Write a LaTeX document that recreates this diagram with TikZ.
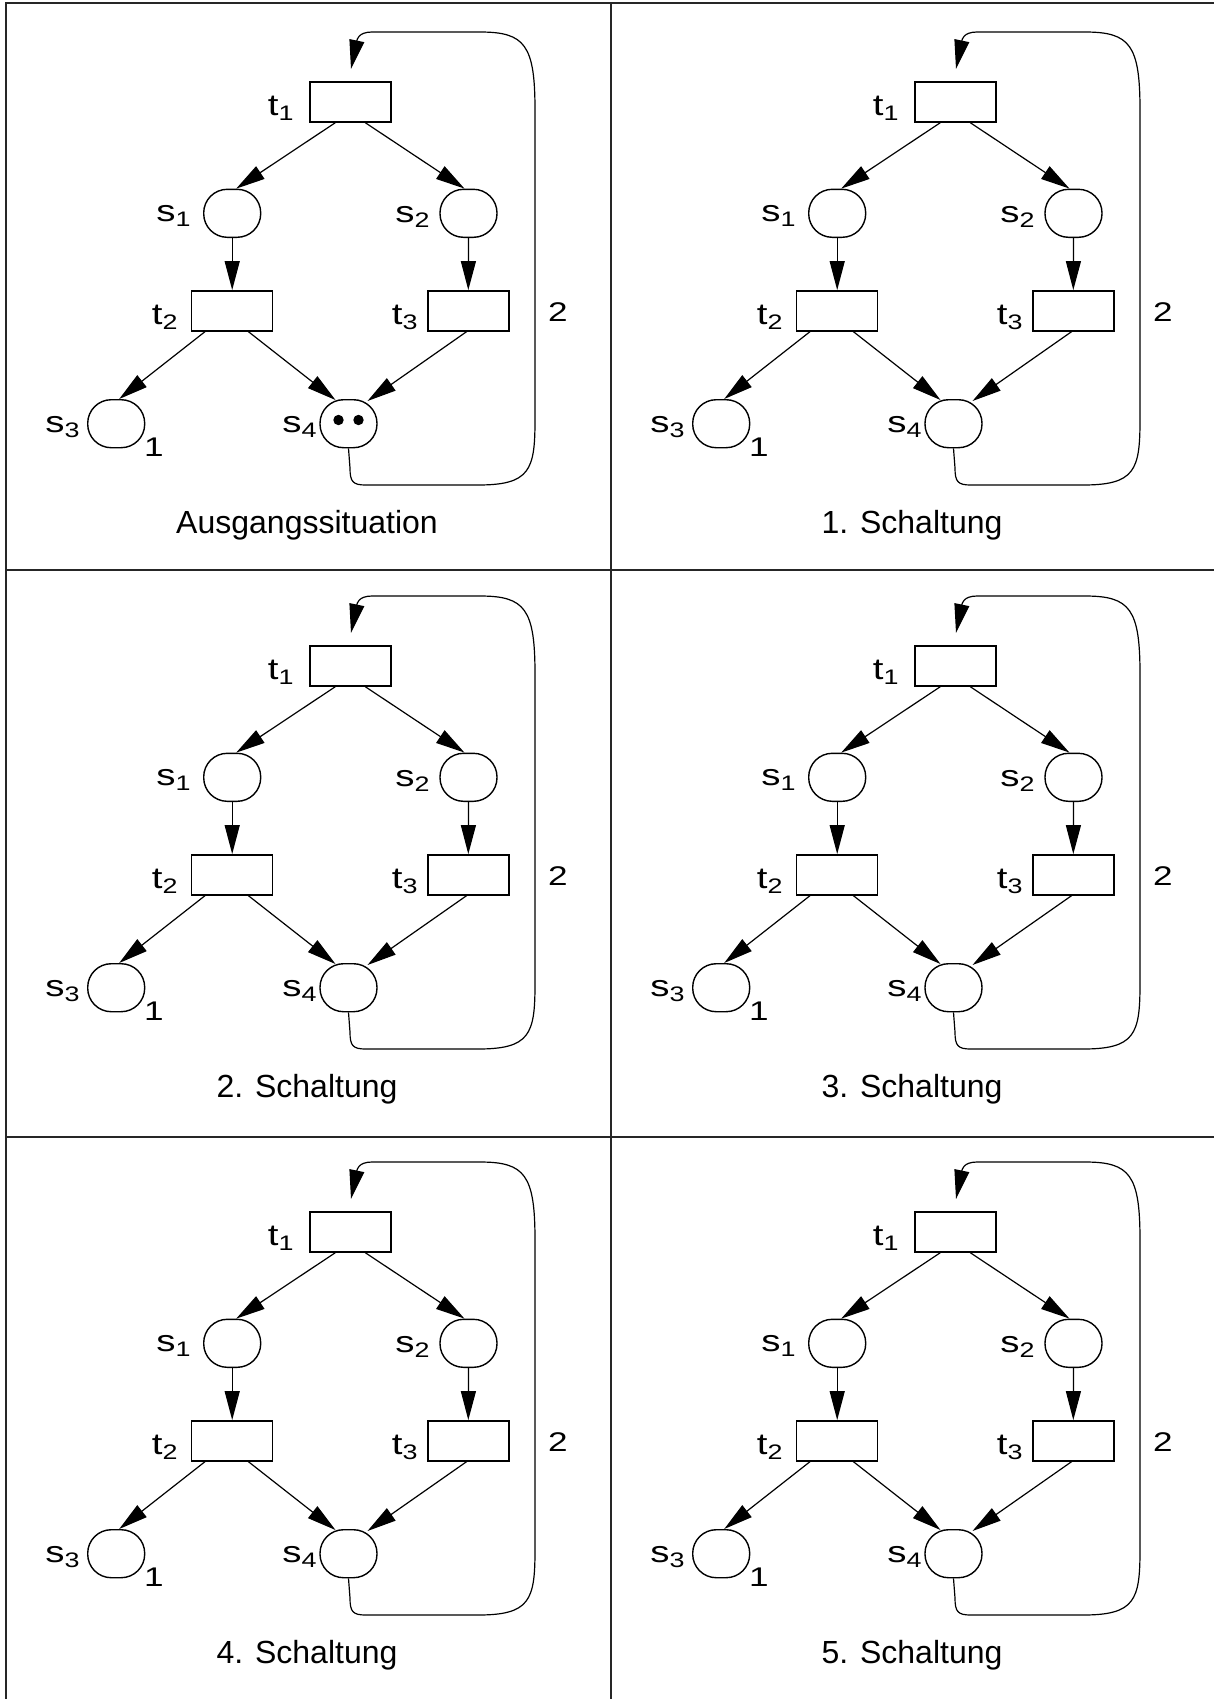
\documentclass[tikz,border=0pt]{standalone}
\usepackage{fontspec}
\usepackage{graphicx}
\setmainfont{Liberation Sans}
\usetikzlibrary{arrows.meta,calc}
\newcommand\pnlab[2]{\scalebox{1.28}[1]{\fontsize{15}{16}\selectfont #1\raisebox{-2.7pt}{\fontsize{10.5}{11}\selectfont #2}}}
\newcommand\pnnum[1]{\scalebox{1.3}[1]{\fontsize{13.5}{14}\selectfont #1}}
\tikzset{
  trans/.style={draw, line width=0.7pt, minimum width=40.5pt, minimum height=20pt, inner sep=0pt},
  place/.style={draw, line width=0.7pt, rounded corners=11.8pt, minimum width=28.5pt, minimum height=24pt, inner sep=0pt},
  pnarrow/.style={line width=0.6pt, -{Triangle[length=14.5pt, width=7.5pt]}},
  lbl/.style={inner sep=0pt, anchor=base east},
  num/.style={inner sep=0pt},
  captext/.style={inner sep=0pt, font=\fontsize{16}{18}\selectfont},
  frame/.style={line width=1pt, black!85},
}
\newcommand\petri[4]{%
\begin{scope}[shift={(#2,#3)}]
  \node[trans] (#1t1) at (350.3,102) {};
  \node[place] (#1s1) at (232.2,213.3) {};
  \node[place] (#1s2) at (468.5,213.3) {};
  \node[trans] (#1t2) at (232.2,310.8) {};
  \node[trans] (#1t3) at (468.3,310.8) {};
  \node[place] (#1s3) at (116.2,423.7) {};
  \node[place] (#1s4) at (348.5,423.7) {};
  \node[lbl] (#1lt1) at (294,115) {\pnlab{t}{1}};
  \node[lbl] (#1ls1) at (191,221) {\pnlab{s}{1}};
  \node[lbl] (#1ls2) at (430,222) {\pnlab{s}{2}};
  \node[lbl] (#1lt2) at (178,324) {\pnlab{t}{2}};
  \node[lbl] (#1lt3) at (418,324) {\pnlab{t}{3}};
  \node[lbl] (#1ls3) at (80,432) {\pnlab{s}{3}};
  \node[lbl] (#1ls4) at (317,432) {\pnlab{s}{4}};
  \node[num] (#1n1) at (154,447) {\pnnum{1}};
  \node[num] (#1n2) at (558,312) {\pnnum{2}};
  \node[captext] (#1cap) at (307,525) {#4};
  \draw[pnarrow] ($(#1t1.south)+(-15,0)$) -- ($(#1s1.north)+(4,0)$);
  \draw[pnarrow] ($(#1t1.south)+(15,0)$) -- ($(#1s2.north)+(-4,0)$);
  \draw[pnarrow] (#1s1.south) -- (#1t2.north);
  \draw[pnarrow] (#1s2.south) -- (#1t3.north);
  \draw[pnarrow] ($(#1t2.south)+(-27,0)$) -- ($(#1s3.north)+(3,0)$);
  \draw[pnarrow] ($(#1t2.south)+(16,0)$) -- ($(#1s4.north)+(-13,1)$);
  \draw[pnarrow] ($(#1t3.south)+(-1.5,0)$) -- ($(#1s4.north)+(19,2)$);
  \draw[pnarrow] (#1s4.south) -- (350,468) .. controls (350,482) and (353,485) .. (366,485)
     -- (478,485) .. controls (530,485) and (535,470) .. (535,420)
     -- (535,110) .. controls (535,45) and (525,32) .. (480,32)
     -- (372,32) .. controls (358,32) and (357,40) .. (351,69);
\end{scope}}
\begin{document}
\begin{tikzpicture}[x=0.5pt,y=-0.5pt]
  \useasboundingbox (0,0) rectangle (1214,1699);
  \draw[frame] (6,1699) -- (6,3) -- (1214,3);
  \draw[frame] (610.7,3) -- (610.7,1699);
  \draw[frame] (6,570) -- (1214,570);
  \draw[frame] (6,1137) -- (1214,1137);
  \petri{A}{0}{0}{Ausgangssituation}
  \petri{B}{605}{0}{1. Schaltung}
  \petri{C}{0}{564}{2. Schaltung}
  \petri{D}{605}{564}{3. Schaltung}
  \petri{E}{0}{1130}{4. Schaltung}
  \petri{F}{605}{1130}{5. Schaltung}
  \fill ($(As4)+(-10,-3.7)$) circle (2.6pt);
  \fill ($(As4)+(10,-3.7)$) circle (2.6pt);
\end{tikzpicture}
\end{document}
